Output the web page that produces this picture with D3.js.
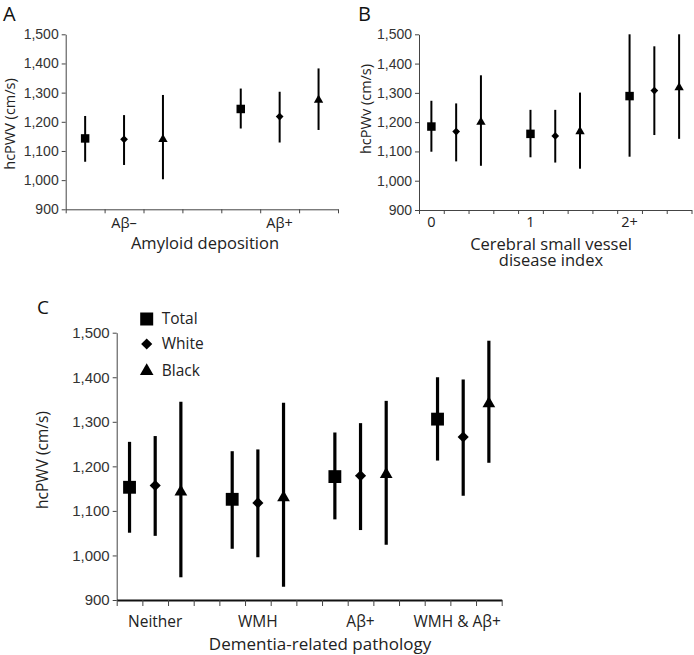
<!DOCTYPE html>
<html>
<head>
<meta charset="utf-8">
<script src="https://cdn.jsdelivr.net/npm/d3@7"></script>
<style>
  body { margin: 0; background: #fff; }
  svg { display: block; font-family: "Open Sans", "Noto Sans", sans-serif; }
  .axis path, .axis line { stroke: #444; }
  .axis text { fill: #333; }
</style>
</head>
<body>
<div id="chart"></div>
<script>
// series shown in every panel
const seriesNames = ['Total', 'White', 'Black'];
const yTicks = [900, 1000, 1100, 1200, 1300, 1400, 1500];

// Panel A: amyloid deposition (rows = category, cols = Total/White/Black)
const aCats = ['Aβ–', 'Aβ+'];
const aMean = [[1143, 1140, 1140], [1244, 1218, 1275]];
const aLow = [[1063, 1052, 1003], [1177, 1129, 1172]];
const aHigh = [[1220, 1223, 1292], [1314, 1303, 1383]];

// Panel B: cerebral small vessel disease index
const bCats = ['0', '1', '2+'];
const bMean = [[1185, 1168, 1200], [1160, 1153, 1168], [1289, 1308, 1318]];
const bLow = [[1099, 1066, 1051], [1080, 1062, 1041], [1082, 1156, 1143]];
const bHigh = [[1273, 1264, 1360], [1242, 1242, 1301], [1500, 1459, 1500]];

// Panel C: dementia-related pathology
const cCats = ['Neither', 'WMH', 'Aβ+', 'WMH & Aβ+'];
const cMean = [[1153, 1157, 1143], [1126, 1118, 1130], [1177, 1179, 1182], [1306, 1266, 1341]];
const cLow = [[1051, 1044, 951], [1015, 996, 930], [1081, 1057, 1024], [1213, 1134, 1208]];
const cHigh = [[1255, 1268, 1345], [1234, 1238, 1343], [1276, 1297, 1347], [1400, 1395, 1482]];

const width = 694;
const height = 655;

const svg = d3.select('#chart')
  .append('svg')
  .attr('width', width)
  .attr('height', height);

// marker shapes: square, diamond (rotated square), triangle
function markerPath(series, size) {
  if (series === 0) return d3.symbol(d3.symbolSquare, size.sq)();
  if (series === 1) return d3.symbol(d3.symbolSquare, size.di)();
  return d3.symbol(d3.symbolTriangle, size.tr)();
}

function drawPanel(opt) {
  const g = svg.append('g');
  const nSlots = opt.cats.length * 4 - 1;

  const y = d3.scaleLinear().domain([900, 1500]).range([opt.y1, opt.y0]);
  const slotX = d3.scaleBand().domain(d3.range(nSlots)).range([opt.x0, opt.x1]).padding(0);
  const edgeX = d3.scaleLinear().domain([0, nSlots]).range([opt.x0, opt.x1]);

  // y axis
  g.append('g')
    .attr('class', 'axis')
    .attr('transform', `translate(${opt.x0},0)`)
    .call(d3.axisLeft(y).tickValues(yTicks).tickFormat(d3.format(','))
      .tickSize(4).tickSizeOuter(0).tickPadding(3))
    .call((s) => s.selectAll('text').style('font-size', opt.tickFont + 'px'));

  // x axis: ticks on slot boundaries
  g.append('g')
    .attr('class', 'axis')
    .attr('transform', `translate(0,${opt.y1})`)
    .call(d3.axisBottom(edgeX).tickValues(d3.range(nSlots + 1)).tickFormat('')
      .tickSize(opt.xTick).tickSizeOuter(0))
    .call((s) => s.select('.domain').attr('stroke-width', opt.xAxisWidth).style('stroke', opt.xAxisColor));

  // category labels
  g.selectAll('.cat')
    .data(opt.cats)
    .enter()
    .append('text')
    .attr('x', (_, i) => slotX(i * 4 + opt.labelSlot) + slotX.bandwidth() / 2 + (opt.labelShift ? opt.labelShift[i] : 0))
    .attr('y', opt.catY)
    .attr('text-anchor', 'middle')
    .style('font-size', opt.catFont + 'px')
    .attr('fill', '#222')
    .text((d) => d);

  // x title (one or more lines)
  opt.xTitle.forEach((line, i) => {
    g.append('text')
      .attr('x', opt.xTitleX)
      .attr('y', opt.xTitleY + i * opt.xTitleLine)
      .attr('text-anchor', 'middle')
      .style('font-size', opt.xTitleFont + 'px')
      .attr('fill', '#222')
      .text(line);
  });

  // y title
  g.append('text')
    .attr('transform', `translate(${opt.yTitleX},${opt.yTitleY}) rotate(-90)`)
    .attr('text-anchor', 'middle')
    .attr('dy', '0.35em')
    .style('font-size', opt.yTitleFont + 'px')
    .attr('fill', '#222')
    .text(opt.yTitle);

  // panel letter
  g.append('text')
    .attr('x', opt.letterX)
    .attr('y', opt.letterY)
    .style('font-size', opt.letterFont + 'px')
    .attr('fill', '#111')
    .text(opt.letter);

  // flatten points
  const points = [];
  opt.cats.forEach((c, ci) => {
    seriesNames.forEach((s, si) => {
      points.push({
        slot: ci * 4 + si,
        series: si,
        mean: opt.mean[ci][si],
        low: opt.low[ci][si],
        high: opt.high[ci][si]
      });
    });
  });

  const cx = (d) => slotX(d.slot) + slotX.bandwidth() / 2;

  // error bars
  g.selectAll('.err')
    .data(points)
    .enter()
    .append('line')
    .attr('x1', cx)
    .attr('x2', cx)
    .attr('y1', (d) => y(d.low))
    .attr('y2', (d) => y(d.high))
    .attr('stroke', '#000')
    .attr('stroke-width', opt.barWidth);

  // markers
  g.selectAll('.mark')
    .data(points)
    .enter()
    .append('path')
    .attr('d', (d) => markerPath(d.series, opt.markSize))
    .attr('transform', (d) => `translate(${cx(d)},${y(d.mean)})` + (d.series === 1 ? ' rotate(45)' : ''))
    .attr('fill', '#000');
}

drawPanel({
  letter: 'A', letterX: 3, letterY: 21, letterFont: 20,
  cats: aCats, mean: aMean, low: aLow, high: aHigh,
  x0: 65.7, x1: 338, y0: 34.3, y1: 209.3,
  xTick: 4, xAxisWidth: 1, xAxisColor: '#444', tickFont: 14, labelSlot: 1,
  catY: 228, catFont: 14.5,
  xTitle: ['Amyloid deposition'], xTitleX: 205, xTitleY: 249, xTitleLine: 17, xTitleFont: 16.5,
  yTitle: 'hcPWV (cm/s)', yTitleX: 10, yTitleY: 124, yTitleFont: 14.5,
  barWidth: 2, markSize: { sq: 72, di: 30, tr: 38 }
});

drawPanel({
  letter: 'B', letterX: 358, letterY: 21, letterFont: 20,
  cats: bCats, mean: bMean, low: bLow, high: bHigh,
  x0: 419, x1: 691.5, y0: 34.3, y1: 210,
  xTick: 4, xAxisWidth: 1, xAxisColor: '#444', tickFont: 14, labelSlot: 0,
  catY: 227, catFont: 14.5,
  xTitle: ['Cerebral small vessel', 'disease index'], xTitleX: 551, xTitleY: 250, xTitleLine: 16, xTitleFont: 16.5,
  yTitle: 'hcPWv (cm/s)', yTitleX: 366, yTitleY: 109, yTitleFont: 14.5,
  barWidth: 2, markSize: { sq: 72, di: 30, tr: 38 }
});

drawPanel({
  letter: 'C', letterX: 37, letterY: 314, letterFont: 19,
  cats: cCats, mean: cMean, low: cLow, high: cHigh,
  x0: 116.7, x1: 501.7, y0: 332.7, y1: 600,
  xTick: 6, xAxisWidth: 2, xAxisColor: '#111', tickFont: 15, labelSlot: 1, labelShift: [0, 0, 0, -6],
  catY: 626.5, catFont: 15.5,
  xTitle: ['Dementia-related pathology'], xTitleX: 320, xTitleY: 650, xTitleLine: 17, xTitleFont: 17,
  yTitle: 'hcPWV (cm/s)', yTitleX: 43, yTitleY: 460, yTitleFont: 15.5,
  barWidth: 3.2, markSize: { sq: 165, di: 62, tr: 70 }
});

// legend for panel C
const legend = svg.append('g')
  .selectAll('g')
  .data(seriesNames)
  .enter()
  .append('g')
  .attr('transform', (_, i) => `translate(146.7,${[319, 344, 371][i]})`);

legend.append('path')
  .attr('d', (_, i) => markerPath(i, { sq: 169, di: 62, tr: 80 }))
  .attr('transform', (_, i) => (i === 1 ? 'rotate(45)' : ''))
  .attr('fill', '#000');

legend.append('text')
  .attr('x', 15)
  .attr('dy', '0.35em')
  .style('font-size', '15.5px')
  .attr('fill', '#222')
  .text((d) => d);
</script>
</body>
</html>
